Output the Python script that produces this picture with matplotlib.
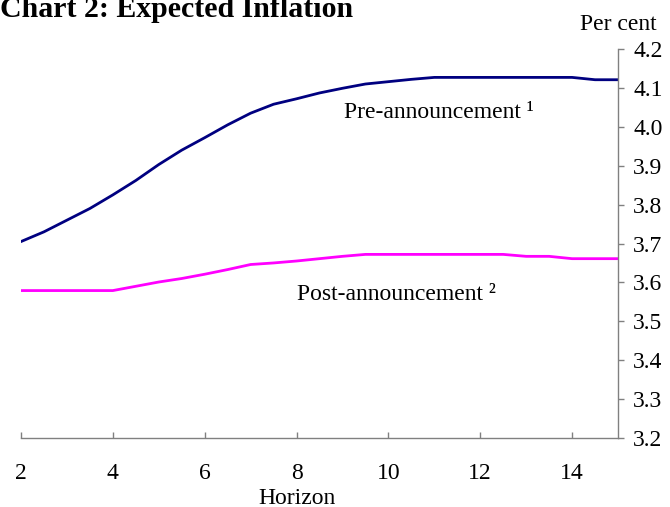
import matplotlib
matplotlib.use('Agg')
import matplotlib.pyplot as plt
from matplotlib.transforms import blended_transform_factory

# horizon (years), half-year steps
horizon = [2, 2.5, 3, 3.5, 4, 4.5, 5, 5.5, 6, 6.5, 7, 7.5, 8, 8.5, 9, 9.5,
           10, 10.5, 11, 11.5, 12, 12.5, 13, 13.5, 14, 14.5, 15]

pre_announcement = [3.705, 3.73, 3.76, 3.79, 3.825, 3.862, 3.903, 3.94, 3.972,
                    4.005, 4.035, 4.058, 4.072, 4.087, 4.099, 4.11, 4.116, 4.122,
                    4.127, 4.127, 4.127, 4.127, 4.127, 4.127, 4.127, 4.121, 4.121]

post_announcement = [3.579, 3.579, 3.579, 3.579, 3.579, 3.59, 3.601, 3.61, 3.621,
                     3.633, 3.646, 3.65, 3.655, 3.661, 3.667, 3.672, 3.672, 3.672,
                     3.672, 3.672, 3.672, 3.672, 3.667, 3.667, 3.661, 3.661, 3.661]

x_ticks = [2, 4, 6, 8, 10, 12, 14]
y_ticks = [3.2, 3.3, 3.4, 3.5, 3.6, 3.7, 3.8, 3.9, 4.0, 4.1, 4.2]

plt.rcParams['font.family'] = ['Liberation Serif', 'DejaVu Serif']

fig = plt.figure(figsize=(6.7, 5.07), dpi=100)
ax = fig.add_axes([21 / 670, 1 - 438 / 507, (618 - 21) / 670, (438 - 49) / 507])

ax.plot(horizon, pre_announcement, color='#000080', lw=2.0)
ax.plot(horizon, post_announcement, color='#FF00FF', lw=2.0)

ax.set_xlim(2, 15)
ax.set_ylim(3.2, 4.2)

# 轴线：只保留底部和右侧
ax.spines['left'].set_visible(False)
ax.spines['top'].set_visible(False)
for s in ('bottom', 'right'):
    ax.spines[s].set_color('#808080')
    ax.spines[s].set_linewidth(1.0)

ax.yaxis.tick_right()
ax.set_yticks(y_ticks)
ax.set_yticklabels([f'{v:.1f}' for v in y_ticks])
ax.set_xticks(x_ticks)
ax.set_xticklabels([str(v) for v in x_ticks])
ax.tick_params(axis='y', direction='out', length=4, width=1, color='#808080',
               pad=7, labelsize=17)
ax.tick_params(axis='x', direction='in', length=4, width=1, color='#808080',
               pad=18, labelsize=17)

ax.text(9.04, 4.038, 'Pre-announcement ¹', fontsize=17, ha='left', va='center')
ax.text(8.0, 3.569, 'Post-announcement ²', fontsize=17, ha='left', va='center')

tr = blended_transform_factory(ax.transData, fig.transFigure)
ax.text(8.0, 1 - 498 / 507, 'Horizon', fontsize=17, ha='center', va='center',
        transform=tr)

fig.text(618 / 670, 1 - 25 / 507, 'Per cent', fontsize=17, ha='center', va='center')
fig.text(0.0, 1 - 17 / 507, 'Chart 2: Expected Inflation', fontsize=21.5,
         fontweight='bold', ha='left', va='baseline')

fig.savefig('out.png', dpi=100)
